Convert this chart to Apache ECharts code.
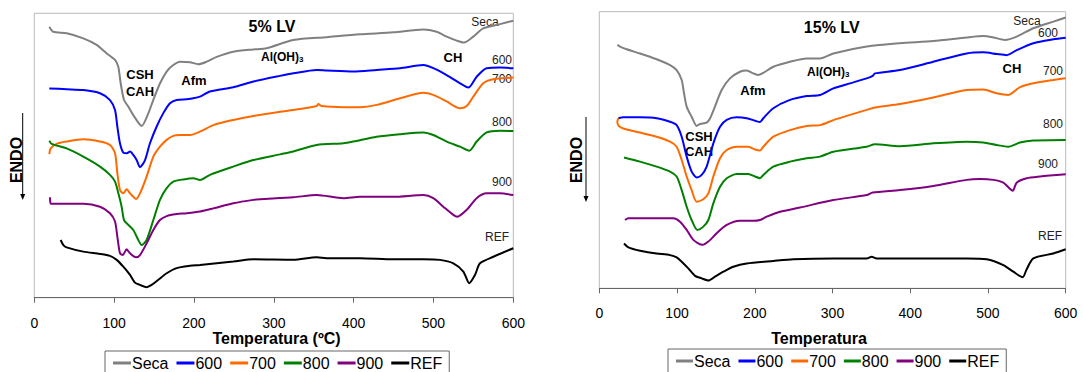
<!DOCTYPE html>
<html>
<head>
<meta charset="utf-8">
<script src="https://cdn.jsdelivr.net/npm/echarts@6/dist/echarts.min.js"></script>
<style>html,body{margin:0;padding:0;background:#fff}#c{width:1083px;height:372px}</style>
</head>
<body>
<div id="c"></div>
<script>
// ---- data: [temperature (°C), DTA signal (arbitrary units, 0-100)] ----
const seriesNames = ['Seca', '600', '700', '800', '900', 'REF'];
const xTicks = [0, 100, 200, 300, 400, 500, 600];

// 5% LV panel
const seca5 = [[18.8,95.3],[23.8,93.5],[40.6,93.0],[61.4,91.2],[78.1,88.9],[90.7,85.9],[101.1,83.6],[105.2,81.2],[108.2,75.4],[112.4,69.5],[117.7,67.2],[124,64.2],[134.5,60.4],[142.8,64.8],[149,69.5],[157.5,75.4],[165.8,79.5],[174.1,81.8],[182.5,83.0],[195,82.8],[205.4,82.1],[216,83.0],[228.5,84.7],[249.3,86.5],[274.3,87.3],[291,87.7],[324.4,90.6],[366.3,91.6],[408,92.6],[449.7,93.3],[487.3,94.3],[504,93.5],[516.6,91.8],[529.1,90.4],[538.3,89.7],[549.9,91.8],[562.4,94.7],[583.3,96.2],[600,97.4]];
const t600_5 = [[18.8,73.6],[40.5,73.3],[61.4,73.0],[82.3,71.9],[94.8,69.5],[101.1,66.0],[104,60.2],[107.3,54.3],[111.5,51.0],[115.7,50.8],[119.9,51.4],[124,50.2],[128.2,48.4],[132.4,45.9],[138.7,48.4],[144.9,54.3],[153.3,60.2],[161.6,64.9],[170,68.4],[178.3,69.5],[190.9,69.8],[199.2,70.1],[207.6,70.7],[220.1,72.5],[249.3,74.0],[274.4,76.0],[307.8,78.0],[324.5,78.9],[353.7,80.1],[366.2,79.9],[399.6,79.5],[428.8,80.1],[458,80.7],[487.3,81.8],[499.8,80.7],[516.5,78.3],[533.2,75.4],[543.7,73.9],[554.1,77.7],[566.6,80.7],[583.3,80.9],[600,80.7]];
const t700_5 = [[18.8,50.5],[20.5,52.5],[28,54.1],[40.5,54.9],[61.4,55.7],[82.3,54.9],[94.8,53.7],[101.1,50.8],[104,43.8],[107.3,37.9],[111.5,36.7],[115.7,38.1],[119.9,36.7],[124,35.5],[127.4,34.7],[132.4,36.7],[140.7,42.6],[149.1,49.6],[157.4,53.1],[165.8,55.5],[174.1,56.9],[182.5,57.2],[195,57.2],[207.6,58.4],[224.3,60.7],[249.3,62.5],[274.4,63.9],[307.8,65.4],[324.5,66.0],[353.7,67.4],[355.8,68.1],[360,67.4],[387.1,67.0],[408,67.0],[428.8,67.8],[458,70.1],[487.3,72.1],[499.8,71.3],[516.5,69.0],[533.2,66.6],[541.6,67.4],[549.9,70.7],[562.4,75.4],[575,76.8],[600,77.4]];
const t800_5 = [[18.8,55.2],[21.8,54.1],[40.5,52.5],[61.4,49.6],[82.3,46.1],[94.8,43.2],[101.1,40.8],[105.3,36.7],[109.4,32.0],[112.4,27.3],[117.8,25.6],[124,23.8],[130.3,20.3],[134.5,18.5],[140.7,20.3],[149.1,27.3],[157.4,34.4],[165.8,38.5],[174.1,40.8],[186.7,41.6],[199.2,42.0],[207.6,41.4],[220.1,43.2],[249.3,46.1],[274.4,48.4],[307.8,50.4],[324.5,51.4],[353.7,53.7],[387.1,54.3],[399.6,54.9],[428.8,56.6],[458,57.5],[487.3,58.1],[499.8,57.2],[516.5,54.9],[533.2,53.1],[544.9,51.7],[554.1,54.9],[566.6,58.1],[583.3,58.7],[600,58.6]];
const t900_5 = [[19.7,35.3],[20.5,33.0],[40.5,33.0],[61.4,33.0],[82.3,32.0],[94.8,29.7],[101.1,26.8],[104,21.5],[107.3,15.6],[110.7,15.0],[115.7,17.0],[119.9,15.6],[127.4,14.2],[132.4,15.0],[140.7,19.1],[149.1,23.8],[157.4,27.3],[165.8,28.7],[178.3,29.4],[190.9,29.7],[207.6,30.3],[224.3,31.4],[249.3,33.2],[274.4,34.4],[282.7,34.6],[324.5,35.3],[353.7,36.1],[387.1,35.0],[408,35.5],[449.7,35.5],[487.3,36.1],[499.8,35.0],[512.3,32.0],[524.9,29.1],[529.9,28.5],[541.6,30.9],[554.1,35.0],[566.6,36.7],[583.3,36.7],[600,36.1]];
const ref5 = [[33,20.3],[36.4,18.5],[40.5,17.7],[61.4,16.2],[82.3,15.4],[94.8,14.7],[103.2,13.3],[111.5,10.9],[119.9,8.0],[126.1,5.3],[132.4,4.5],[140.7,3.7],[147,4.5],[155.4,6.3],[165.8,8.6],[178.3,10.4],[195,11.2],[207.6,11.5],[249.3,12.7],[274.4,13.5],[324.5,13.3],[353.7,14.2],[366.2,13.9],[408,13.9],[449.7,13.5],[487.3,13.5],[508.2,13.3],[524.9,12.1],[537.4,9.2],[544.9,5.1],[552,8.0],[558.3,12.1],[575,14.4],[600,17.4]];

// 15% LV panel
const seca15 = [[23.2,88.0],[26.6,87.4],[35.2,86.4],[52.4,84.9],[73.8,82.8],[91,80.7],[99.5,78.9],[106,75.3],[109,70.5],[112.4,65.7],[118.8,62.0],[125.3,58.7],[129.5,59.4],[138.1,59.9],[142.4,61.4],[148.8,65.7],[157.4,71.7],[168.1,75.9],[181,78.3],[189.6,78.7],[198.2,77.7],[204.6,77.1],[211,77.9],[223.9,80.1],[245.3,81.9],[266.8,83.1],[283.9,83.1],[301.1,84.9],[344,87.4],[386.8,88.6],[429.7,89.4],[472.6,90.7],[494,91.2],[506.9,90.7],[521.9,89.8],[536.9,91.0],[558.4,94.0],[584.1,96.4],[600,97.9]];
const t600_15 = [[24.5,61.5],[30.9,61.8],[52.4,61.8],[73.8,61.5],[91,60.2],[99.5,59.0],[106,54.8],[112.4,47.6],[118.8,42.2],[125.3,40.1],[131.7,41.0],[138.1,44.0],[146.7,52.4],[155.3,58.4],[163.9,60.9],[176.7,61.8],[189.6,61.5],[200.3,60.6],[206.7,60.1],[211,61.5],[223.9,65.1],[245.3,68.1],[266.8,69.5],[283.9,69.9],[301.1,72.3],[322.5,74.1],[344,75.9],[351.7,76.8],[354.7,77.7],[386.8,78.9],[429.7,81.9],[472.6,84.9],[494,85.3],[511.2,84.7],[524,84.3],[536.9,86.1],[558.4,88.6],[584.1,90.0],[600,90.6]];
const t700_15 = [[24.5,61.5],[23.2,60.2],[24.9,58.7],[30.9,57.8],[52.4,56.3],[73.8,54.8],[91,53.0],[99.5,51.2],[106,46.4],[112.4,40.4],[118.8,35.5],[125.3,31.3],[133.8,32.2],[140.3,34.3],[146.7,40.4],[155.3,47.0],[163.9,50.0],[176.7,51.2],[191.7,51.2],[200.3,50.2],[206.7,49.8],[211,51.2],[223.9,54.8],[245.3,57.2],[266.8,58.7],[283.9,59.0],[301.1,60.8],[322.5,62.7],[344,64.5],[354.7,65.4],[386.8,66.6],[429.7,69.0],[472.6,71.7],[494,71.9],[511.2,70.5],[526.2,69.9],[541.2,72.7],[558.4,74.1],[584.1,75.3],[600,75.9]];
const t800_15 = [[31.8,47.3],[52.4,45.8],[73.8,44.0],[91,42.2],[99.5,40.4],[106,35.5],[112.4,29.5],[118.8,24.7],[126.1,21.1],[133.8,22.3],[140.3,24.7],[146.7,30.7],[155.3,36.7],[163.9,39.8],[176.7,41.3],[191.7,41.3],[200.3,40.4],[206.7,39.8],[211,41.0],[223.9,44.0],[245.3,45.8],[266.8,47.0],[283.9,47.6],[301.1,49.4],[344,51.2],[354.7,52.1],[386.8,51.4],[429.7,52.4],[472.6,53.0],[494,52.7],[511.2,51.8],[526.2,51.2],[541.2,52.7],[558.4,53.4],[600,53.6]];
const t900_15 = [[33.1,24.7],[37.4,25.3],[52.4,25.3],[73.8,25.3],[95.2,25.3],[103.8,24.1],[112.4,21.1],[121,17.5],[132.6,15.7],[140.3,16.9],[151,19.9],[163.9,22.9],[181,24.4],[198.2,24.4],[206.7,24.7],[215.3,25.9],[232.5,27.7],[258.2,29.2],[301.1,31.9],[344,33.7],[351.7,34.6],[386.8,35.5],[429.7,37.0],[472.6,39.2],[489.8,39.5],[506.9,39.2],[519.8,38.2],[531.8,35.3],[536.9,38.2],[549.8,39.8],[566.9,40.4],[600,41.2]];
const ref15 = [[31.8,16.2],[37.4,14.8],[52.4,13.6],[73.8,12.6],[91,12.0],[99.5,11.2],[106,9.6],[114.5,7.2],[123.1,4.5],[131.7,3.6],[140.3,2.8],[148.8,4.2],[159.6,6.0],[172.4,7.8],[189.6,9.0],[223.9,9.9],[249.6,10.5],[301.1,10.8],[344,10.8],[350.4,11.4],[356.8,10.8],[386.8,10.8],[429.7,10.8],[472.6,10.8],[498.3,10.5],[519.8,8.4],[532.6,6.0],[544.6,4.0],[549.8,6.9],[558.4,10.8],[584.1,12.6],[600,14.1]];

const panel5 = [seca5, t600_5, t700_5, t800_5, t900_5, ref5];
const panel15 = [seca15, t600_15, t700_15, t800_15, t900_15, ref15];
const colors = ['#808080', '#0000ff', '#ff6a00', '#008000', '#800080', '#000000'];

const FONT = '"Liberation Sans", Arial, sans-serif';
const chart = echarts.init(document.getElementById('c'), null, {renderer: 'svg'});

function xAxis(gi) {
  return {
    type: 'value', gridIndex: gi, min: xTicks[0], max: xTicks[xTicks.length - 1], interval: 100,
    axisLine: {show: true, onZero: false, lineStyle: {color: '#666', width: 1}},
    axisTick: {show: true, length: 5, lineStyle: {color: '#666'}},
    axisLabel: {fontSize: 14, color: '#000', fontFamily: FONT, margin: 18},
    splitLine: {show: false}
  };
}
function yAxis(gi) {
  return {type: 'value', gridIndex: gi, min: 0, max: 100, show: false, splitLine: {show: false}};
}
const series = [];
[panel5, panel15].forEach((panel, gi) => {
  panel.forEach((d, i) => {
    series.push({
      name: seriesNames[i], type: 'line', xAxisIndex: gi, yAxisIndex: gi,
      data: d, showSymbol: false, symbol: 'none', smooth: 0.25, animation: false,
      lineStyle: {color: colors[i], width: 2}, itemStyle: {color: colors[i]}
    });
  });
});
function legend(left, top, iw) {
  return {
    data: seriesNames, left: left, top: top, orient: 'horizontal',
    icon: 'rect', itemWidth: iw, itemHeight: 3, itemGap: 8,
    padding: [4, 7, 12, 8], borderColor: '#666', borderWidth: 1,
    textStyle: {fontSize: 16, lineHeight: 16, color: '#000', fontFamily: FONT, padding: [0, 0, 0, -4]},
    selectedMode: false
  };
}
function txt(x, y, s, size, bold, align, rot) {
  return {type: 'text', x: x, y: y, rotation: rot || 0,
    style: {text: s, fontSize: size, fontWeight: bold ? 'bold' : 'normal', fill: '#000',
      fontFamily: FONT, textAlign: align || 'center', textVerticalAlign: 'middle'}};
}
function lab(x, y, s) {
  return {type: 'text', x: x, y: y,
    style: {text: s, fontSize: 12, fill: '#222', fontFamily: FONT, textAlign: 'center', textVerticalAlign: 'middle'}};
}
function sub(x, y) {
  return {type: 'text', x: x, y: y,
    style: {rich: {a: {fontSize: 12, fontWeight: 'bold', fontFamily: FONT, fill: '#000'},
      s: {fontSize: 8, fontWeight: 'bold', fontFamily: FONT, fill: '#000', verticalAlign: 'bottom', padding: [5, 0, 0, 0]}},
      text: '{a|Al(OH)}{s|3}', textVerticalAlign: 'middle', textAlign: 'left'}};
}
function arrow(x, y1, y2) {
  return [
    {type: 'line', shape: {x1: x, y1: y1, x2: x, y2: y2 - 4}, style: {stroke: '#000', lineWidth: 1}},
    {type: 'polygon', shape: {points: [[x - 2.5, y2 - 6], [x + 2.5, y2 - 6], [x, y2]]}, style: {fill: '#000'}}
  ];
}
const graphics = [
  txt(272, 26, '5% LV', 16, true),
  lab(485, 22, 'Seca'), lab(502, 60, '600'), lab(502, 79, '700'), lab(502, 122, '800'), lab(502, 182, '900'), lab(497, 237, 'REF'),
  txt(140, 74, 'CSH', 13, true), txt(140, 91, 'CAH', 13, true), txt(194, 80, 'Afm', 13, true),
  sub(261, 57), txt(453, 57, 'CH', 13, true),
  txt(16.5, 160, 'ENDO', 16, true, 'center', Math.PI / 2),
  ...arrow(22.7, 113, 200),
  txt(276.5, 338, 'Temperatura (ºC)', 16, true),

  txt(831.7, 27.5, '15% LV', 16, true),
  lab(1027, 21, 'Seca'), lab(1048, 33, '600'), lab(1053, 71, '700'), lab(1053, 124, '800'), lab(1048, 164, '900'), lab(1050, 236, 'REF'),
  txt(699, 136, 'CSH', 13, true), txt(699, 151, 'CAH', 13, true), txt(753, 90, 'Afm', 13, true),
  sub(807, 72), txt(1012, 68, 'CH', 13, true),
  txt(576, 160, 'ENDO', 16, true, 'center', Math.PI / 2),
  ...arrow(586, 117, 202),
  txt(819, 338, 'Temperatura', 16, true)
];

chart.setOption({
  animation: false,
  backgroundColor: '#fff',
  grid: [
    {left: 34.3, top: 13.3, width: 479, height: 284.4, show: true, borderColor: '#bbb', borderWidth: 1, backgroundColor: 'transparent'},
    {left: 599.3, top: 11.7, width: 466.4, height: 276.6, show: true, borderColor: '#bbb', borderWidth: 1, backgroundColor: 'transparent'}
  ],
  xAxis: [xAxis(0), xAxis(1)],
  yAxis: [yAxis(0), yAxis(1)],
  legend: [legend(105, 351, 18), legend(668, 349, 17)],
  series: series,
  graphic: graphics
});
</script>
</body>
</html>
